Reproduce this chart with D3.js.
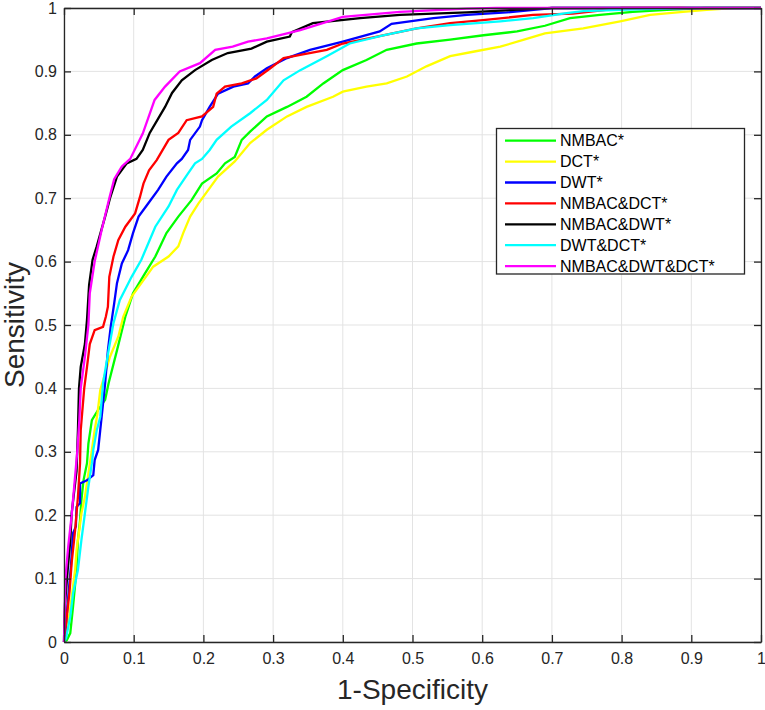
<!DOCTYPE html>
<html><head><meta charset="utf-8">
<script src="https://cdn.jsdelivr.net/npm/d3@7"></script>
<style>body{margin:0;background:#fff}svg{display:block}</style>
</head><body>
<svg id="c" width="765" height="710"></svg>
<script>
const seriesNames = ["NMBAC*","DCT*","DWT*","NMBAC&DCT*","NMBAC&DWT*","DWT&DCT*","NMBAC&DWT&DCT*"];
const seriesColors = ["#00ff00","#ffff00","#0000ff","#ff0000","#000000","#00ffff","#ff00ff"];
const tickValues = [0,0.1,0.2,0.3,0.4,0.5,0.6,0.7,0.8,0.9,1];
const tickLabels = ["0","0.1","0.2","0.3","0.4","0.5","0.6","0.7","0.8","0.9","1"];

const nmbac = [[0,0],[0.004,0.003],[0.009,0.014],[0.013,0.056],[0.018,0.114],[0.02,0.161],[0.023,0.192],[0.025,0.224],[0.028,0.255],[0.033,0.282],[0.035,0.313],[0.04,0.35],[0.049,0.366],[0.059,0.382],[0.064,0.408],[0.076,0.46],[0.088,0.513],[0.099,0.55],[0.116,0.581],[0.131,0.608],[0.147,0.645],[0.164,0.671],[0.183,0.697],[0.198,0.723],[0.219,0.739],[0.231,0.755],[0.245,0.765],[0.255,0.792],[0.267,0.805],[0.291,0.829],[0.32,0.844],[0.348,0.86],[0.372,0.881],[0.40,0.902],[0.434,0.918],[0.463,0.934],[0.506,0.944],[0.554,0.95],[0.602,0.957],[0.65,0.963],[0.69,0.972],[0.726,0.984],[0.769,0.989],[0.816,0.994],[0.865,0.997],[0.92,1],[1,1]];
const dct = [[0,0],[0.004,0.019],[0.008,0.045],[0.011,0.071],[0.016,0.114],[0.018,0.145],[0.022,0.177],[0.025,0.203],[0.03,0.229],[0.035,0.266],[0.04,0.303],[0.044,0.334],[0.048,0.36],[0.052,0.397],[0.066,0.45],[0.078,0.482],[0.085,0.513],[0.097,0.545],[0.111,0.566],[0.128,0.592],[0.15,0.608],[0.164,0.624],[0.171,0.645],[0.181,0.671],[0.193,0.692],[0.205,0.71],[0.221,0.734],[0.245,0.758],[0.267,0.787],[0.291,0.808],[0.32,0.829],[0.348,0.844],[0.386,0.86],[0.40,0.868],[0.434,0.876],[0.463,0.881],[0.492,0.892],[0.52,0.908],[0.554,0.924],[0.587,0.931],[0.626,0.939],[0.66,0.95],[0.69,0.96],[0.745,0.968],[0.798,0.979],[0.841,0.989],[0.888,0.994],[0.922,0.997],[0.96,1],[1,1]];
const dwt = [[0,0],[0.003,0.03],[0.006,0.07],[0.01,0.12],[0.013,0.172],[0.017,0.182],[0.018,0.213],[0.023,0.219],[0.023,0.25],[0.033,0.255],[0.042,0.263],[0.044,0.287],[0.049,0.303],[0.052,0.334],[0.054,0.355],[0.059,0.408],[0.063,0.46],[0.067,0.497],[0.072,0.534],[0.076,0.566],[0.083,0.597],[0.092,0.618],[0.099,0.645],[0.107,0.671],[0.121,0.692],[0.135,0.713],[0.147,0.734],[0.162,0.755],[0.169,0.762],[0.178,0.776],[0.181,0.792],[0.195,0.813],[0.198,0.823],[0.209,0.844],[0.221,0.865],[0.243,0.876],[0.264,0.881],[0.274,0.892],[0.291,0.905],[0.32,0.921],[0.353,0.934],[0.40,0.947],[0.453,0.963],[0.47,0.975],[0.53,0.984],[0.578,0.989],[0.635,0.993],[0.70,1],[1,1]];
const nmbacDct = [[0,0],[0.002,0.02],[0.004,0.04],[0.008,0.08],[0.011,0.125],[0.016,0.177],[0.02,0.229],[0.023,0.282],[0.024,0.334],[0.029,0.4],[0.033,0.434],[0.037,0.47],[0.044,0.492],[0.056,0.497],[0.06,0.513],[0.063,0.529],[0.065,0.576],[0.071,0.608],[0.078,0.634],[0.088,0.655],[0.102,0.676],[0.109,0.702],[0.114,0.723],[0.122,0.744],[0.133,0.76],[0.15,0.792],[0.164,0.803],[0.176,0.823],[0.198,0.829],[0.214,0.844],[0.219,0.865],[0.231,0.876],[0.255,0.881],[0.276,0.889],[0.296,0.905],[0.315,0.921],[0.339,0.926],[0.377,0.934],[0.40,0.944],[0.449,0.955],[0.506,0.968],[0.554,0.976],[0.601,0.981],[0.673,0.989],[0.73,0.991],[0.80,1],[1,1]];
const nmbacDwt = [[0,0],[0.0005,0.03],[0.0015,0.061],[0.005,0.11],[0.009,0.16],[0.011,0.203],[0.018,0.27],[0.02,0.334],[0.0215,0.4],[0.024,0.434],[0.03,0.47],[0.033,0.508],[0.036,0.563],[0.041,0.603],[0.047,0.624],[0.059,0.671],[0.066,0.70],[0.076,0.734],[0.09,0.755],[0.104,0.762],[0.113,0.776],[0.123,0.803],[0.145,0.844],[0.155,0.866],[0.169,0.886],[0.188,0.902],[0.212,0.918],[0.235,0.929],[0.269,0.936],[0.291,0.947],[0.324,0.955],[0.327,0.962],[0.357,0.976],[0.425,0.984],[0.482,0.989],[0.578,0.993],[0.626,0.996],[0.70,1],[1,1]];
const dwtDct = [[0,0],[0.003,0.006],[0.009,0.04],[0.013,0.077],[0.02,0.114],[0.025,0.161],[0.03,0.203],[0.035,0.245],[0.04,0.282],[0.042,0.303],[0.047,0.334],[0.052,0.355],[0.056,0.408],[0.064,0.46],[0.071,0.503],[0.08,0.539],[0.097,0.576],[0.111,0.603],[0.121,0.629],[0.131,0.655],[0.15,0.687],[0.162,0.713],[0.178,0.739],[0.188,0.755],[0.198,0.762],[0.209,0.776],[0.219,0.792],[0.24,0.813],[0.267,0.834],[0.291,0.855],[0.315,0.886],[0.339,0.902],[0.377,0.924],[0.41,0.944],[0.458,0.957],[0.506,0.968],[0.554,0.973],[0.626,0.979],[0.673,0.984],[0.721,0.992],[0.745,0.995],[0.82,0.998],[0.90,1],[1,1]];
const nmbacDwtDct = [[0,0],[0.001,0.05],[0.002,0.1],[0.006,0.15],[0.011,0.2],[0.015,0.25],[0.019,0.3],[0.022,0.35],[0.024,0.4],[0.03,0.45],[0.035,0.5],[0.037,0.55],[0.044,0.6],[0.054,0.65],[0.065,0.7],[0.072,0.73],[0.083,0.75],[0.095,0.762],[0.113,0.802],[0.13,0.855],[0.145,0.876],[0.166,0.9],[0.195,0.913],[0.217,0.934],[0.242,0.939],[0.264,0.947],[0.291,0.952],[0.339,0.965],[0.40,0.986],[0.482,0.994],[0.578,0.999],[0.62,1],[1,1]];
const seriesData = [nmbac,dct,dwt,nmbacDct,nmbacDwt,dwtDct,nmbacDwtDct];

const svg = d3.select("#c");
const L=64, R=761, T=8, B=642;
const x = d3.scaleLinear().domain([0,1]).range([L,R]);
const y = d3.scaleLinear().domain([0,1]).range([B,T]);
const axisColor = "#262626";
const font = "'Liberation Sans', Arial, Helvetica, sans-serif";

// grid
const grid = svg.append("g");
grid.selectAll(".gx").data(tickValues).enter().append("line")
  .attr("x1",d=>x(d)).attr("x2",d=>x(d)).attr("y1",T).attr("y2",B)
  .attr("stroke","#e3e3e3").attr("stroke-width",1);
grid.selectAll(".gy").data(tickValues).enter().append("line")
  .attr("y1",d=>y(d)).attr("y2",d=>y(d)).attr("x1",L).attr("x2",R)
  .attr("stroke","#e3e3e3").attr("stroke-width",1);

// curves
const line = d3.line().x(d=>x(d[0])).y(d=>y(d[1]));
const curves = svg.append("g");
seriesData.forEach((s,i)=>{
  curves.append("path").attr("d",line(s)).attr("fill","none")
    .attr("stroke",seriesColors[i]).attr("stroke-width",2.3).attr("stroke-linejoin","miter");
});

// axes
const fmt = (d)=>tickLabels[tickValues.indexOf(d)];
const ax = [
  {a:d3.axisBottom(x), t:`translate(0,${B})`, lab:true, pad:11},
  {a:d3.axisTop(x), t:`translate(0,${T})`, lab:false, pad:0},
  {a:d3.axisLeft(y), t:`translate(${L},0)`, lab:true, pad:7},
  {a:d3.axisRight(y), t:`translate(${R},0)`, lab:false, pad:0}
];
ax.forEach((o)=>{
  o.a.tickValues(tickValues).tickSizeOuter(0).tickSizeInner(-7).tickPadding(o.pad)
    .tickFormat(o.lab?fmt:()=> "");
  const g = svg.append("g").attr("transform",o.t).call(o.a);
  g.select(".domain").attr("stroke",axisColor).attr("stroke-width",1.3);
  g.selectAll(".tick line").attr("stroke",axisColor).attr("stroke-width",1.3);
  g.selectAll(".tick text").attr("fill",axisColor).style("font-family",font).style("font-size","16px");
});

// axis titles
svg.append("text").attr("x",(L+R)/2).attr("y",699).attr("text-anchor","middle")
  .style("font-family",font).style("font-size","28px").attr("fill",axisColor).text("1-Specificity");
svg.append("text").attr("transform",`translate(24,${(T+B)/2}) rotate(-90)`).attr("text-anchor","middle")
  .style("font-family",font).style("font-size","28px").attr("fill",axisColor).text("Sensitivity");

// legend
const lg = svg.append("g");
lg.append("rect").attr("x",496.5).attr("y",128.5).attr("width",248).attr("height",145.5)
  .attr("fill","#fff").attr("stroke",axisColor).attr("stroke-width",1.3);
seriesNames.forEach((n,i)=>{
  const yy = 140.7 + i*20.9;
  lg.append("line").attr("x1",505).attr("x2",556).attr("y1",yy).attr("y2",yy)
    .attr("stroke",seriesColors[i]).attr("stroke-width",2.3);
  lg.append("text").attr("x",560).attr("y",yy+5.6).style("font-family",font).style("font-size","16px")
    .attr("fill","#000").text(n);
});
</script>
</body></html>
